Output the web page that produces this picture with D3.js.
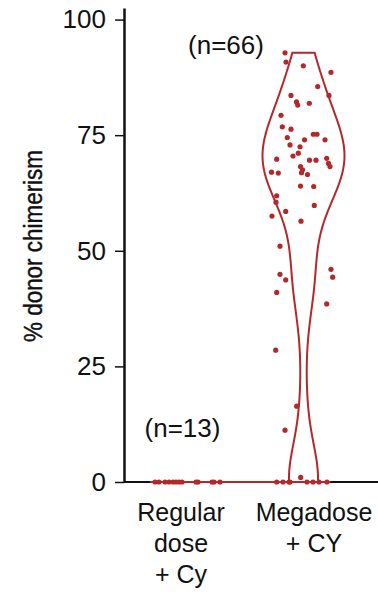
<!DOCTYPE html>
<html>
<head>
<meta charset="utf-8">
<script src="https://cdn.jsdelivr.net/npm/d3@7"></script>
<style>
  body { margin: 0; background: #fff; }
  text { font-family: "Liberation Sans", Arial, sans-serif; fill: #111; }
</style>
</head>
<body>
<svg id="canvas" width="378" height="594"></svg>
<script>
// groups and their labels (one line per array entry)
var groups = ["regular", "megadose"];
var groupLabels = [["Regular", "dose", "+ Cy"], ["Megadose", "+ CY"]];
var groupCounts = ["(n=13)", "(n=66)"];
var yTicks = [0, 25, 50, 75, 100];

// regular dose: all at 0 % chimerism
var regularValues = [0, 0, 0, 0, 0, 0, 0, 0, 0, 0, 0, 0, 0];
var regularJitter = [-32, -28, -22, -18, -14, -11, -8, -5, 9, 11, 25, 27, 33];

// megadose values, with their horizontal jitter (px)
var megaValues = [92.8, 90.8, 90.0, 88.6, 85.5, 83.6, 83.6, 82.2, 81.5, 81.9,
    79.3, 76.8, 76.3, 74.5, 75.2, 75.2, 74.0, 74.0, 72.5, 72.9,
    71.1, 70.5, 69.8, 69.6, 69.6, 70.0, 68.9, 68.2, 68.2, 67.5,
    66.9, 66.5, 67.0, 66.8, 64.0, 63.9, 61.9, 60.5, 59.8, 58.5,
    57.5, 56.4, 51.0, 44.9, 43.7, 41.0, 46.0, 44.3, 38.5, 28.5,
    16.4, 11.2, 1.0, 0, 0, 0, 0, 0, 0, 0, 0];
var megaJitter = [-18.5, -17.5, -0.2, 27.5, 14.2, 25.5, -12.5, -7, -5.8, 5.8,
    -22.5, -21.2, -12.5, -16.2, 9.8, 13.5, 21.5, 1, -3.5, -13.5,
    -5.2, -10.5, -26.8, 6, 12.5, 23.2, 25, 26.5, -3, -1,
    -2, 4, -32, -25.2, -3, 10.2, -26.8, -27.5, 10.8, -17.8,
    -31.5, -2.5, -23.5, -23.5, -17.8, -26.8, 27.5, 29.2, 23.2, -27.8,
    -6.8, -18.5, -2.8, -26.8, -20.5, -14.5, 3.5, 9.5, 15.5, 23.5, -13.5];

var red = "#b3292b";
var svg = d3.select("#canvas");

var y = d3.scaleLinear().domain([0, 102.5]).range([482, 8]);
var x = d3.scalePoint().domain(groups).range([187, 303.5]);

// kernel density for the megadose violin
var bandwidth = 7.6;
function kde(values, v) {
    return d3.sum(values, function (d) {
        var u = (v - d) / bandwidth;
        return Math.exp(-0.5 * u * u);
    });
}
var vMax = d3.max(megaValues);
var grid = d3.range(0, vMax, 0.5).concat([vMax]);
var density = grid.map(function (v) { return [v, kde(megaValues, v)]; });
var w = d3.scaleLinear().domain([0, d3.max(density, function (d) { return d[1]; })]).range([0, 41]);

// x baseline
svg.append("line")
    .attr("x1", 124).attr("x2", 378)
    .attr("y1", y(0)).attr("y2", y(0))
    .attr("stroke", "#111").attr("stroke-width", 2);

// regular dose "violin" collapses to a flat line at 0
svg.append("line")
    .attr("x1", x("regular") - 37).attr("x2", x("megadose") + 27)
    .attr("y1", y(0)).attr("y2", y(0))
    .attr("stroke", red).attr("stroke-width", 2);

var cx = x("megadose");
var area = d3.area()
    .y(function (d) { return y(d[0]); })
    .x0(function (d) { return cx - w(d[1]); })
    .x1(function (d) { return cx + w(d[1]); })
    .curve(d3.curveBasis);
svg.append("path")
    .datum(density)
    .attr("d", area)
    .attr("fill", "none")
    .attr("stroke", red)
    .attr("stroke-width", 2);

// dots
function drawDots(values, jitter, group) {
    svg.append("g").selectAll("circle")
        .data(values)
        .enter().append("circle")
        .attr("cx", function (d, i) { return x(group) + jitter[i]; })
        .attr("cy", function (d) { return y(d); })
        .attr("r", 2.6)
        .attr("fill", red);
}
drawDots(regularValues, regularJitter, "regular");
drawDots(megaValues, megaJitter, "megadose");

// y axis
var yAxis = d3.axisLeft(y).tickValues(yTicks).tickSize(9).tickSizeOuter(0).tickPadding(9);
var gy = svg.append("g").attr("transform", "translate(124,0)").call(yAxis);
gy.select(".domain").attr("stroke", "#111").attr("stroke-width", 2.5);
gy.selectAll(".tick line").attr("stroke", "#111").attr("stroke-width", 1.5);
gy.selectAll(".tick text")
    .attr("font-size", 26)
    .attr("font-family", "Liberation Sans, Arial, sans-serif")
    .attr("fill", "#111");

svg.append("text")
    .attr("transform", "translate(42,246) rotate(-90)")
    .attr("text-anchor", "middle")
    .attr("font-size", 25)
    .attr("font-family", "Liberation Sans Narrow, DejaVu Sans Condensed, sans-serif")
    .attr("stroke", "#111")
    .attr("stroke-width", 0.4)
    .attr("textLength", 192)
    .attr("lengthAdjust", "spacingAndGlyphs")
    .text("% donor chimerism");

// category labels
var labelOffset = [-6, 10.5];
groups.forEach(function (g, gi) {
    var t = svg.append("text")
        .attr("text-anchor", "middle")
        .attr("font-size", 25);
    t.selectAll("tspan")
        .data(groupLabels[gi])
        .enter().append("tspan")
        .attr("x", x(g) + labelOffset[gi])
        .attr("y", function (d, i) { return 521 + i * 31; })
        .text(function (d) { return d; });
});

// n annotations
svg.append("text")
    .attr("x", x("regular") - 4.5).attr("y", y(9.7))
    .attr("text-anchor", "middle").attr("font-size", 26)
    .text(groupCounts[0]);
svg.append("text")
    .attr("x", cx - 77.5).attr("y", y(92.5))
    .attr("text-anchor", "middle").attr("font-size", 26)
    .text(groupCounts[1]);
</script>
</body>
</html>
